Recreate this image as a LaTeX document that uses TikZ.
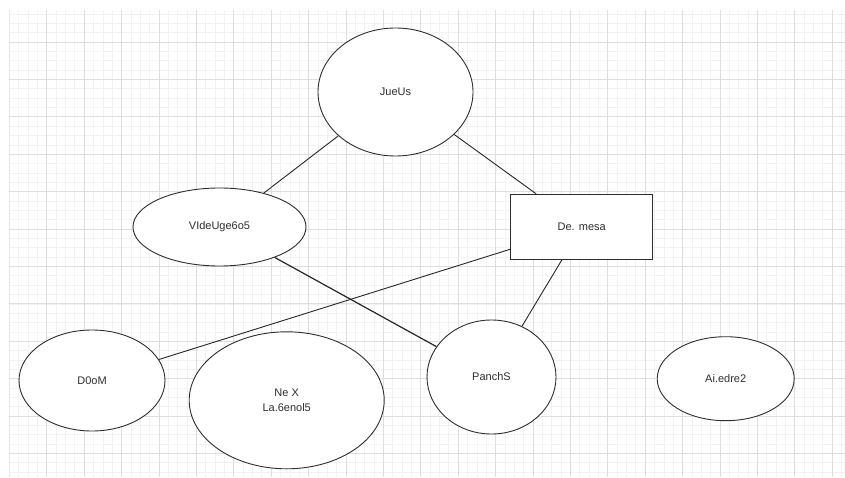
\documentclass[tikz,border=0pt]{standalone}
\usepackage{fontspec}
\setmainfont{Liberation Sans}
\usetikzlibrary{shapes.geometric}
\definecolor{gridmaj}{HTML}{DEDEDE}
\definecolor{gridmin}{HTML}{F2F2F2}
\definecolor{ink}{HTML}{2E2E2E}
\begin{document}
\begin{tikzpicture}[x=1pt,y=-1pt,line width=0.9pt,
ell/.style={ellipse,draw=ink,fill=white,inner sep=0pt,text=ink,align=center,font=\fontsize{11}{14.5}\selectfont},
box/.style={rectangle,draw=ink,fill=white,inner sep=0pt,text=ink,font=\fontsize{11}{14.5}\selectfont},
edge/.style={draw=black!85,line width=0.9pt}]
\useasboundingbox (0,0) rectangle (845,478);
\begin{scope}
\clip (9.3,10) rectangle (845,477);
\foreach \i in {0,...,89}\draw[gridmin,line width=0.6pt]({9.3+9.35*\i},10)--({9.3+9.35*\i},477);
\foreach \i in {0,...,50}\draw[gridmin,line width=0.6pt](9.3,{4.6+9.35*\i})--(845,{4.6+9.35*\i});
\foreach \i in {0,...,22}\draw[gridmaj,line width=0.8pt]({9.3+37.4*\i},10)--({9.3+37.4*\i},477);
\foreach \i in {0,...,12}\draw[gridmaj,line width=0.8pt](9.3,{4.6+37.4*\i})--(845,{4.6+37.4*\i});
\end{scope}
\node[ell,minimum width=155pt,minimum height=128pt](jueus) at (395.5,92){JueUs};
\node[ell,minimum width=173pt,minimum height=78pt](video) at (219.5,227){VIdeUge6o5};
\node[box,minimum width=142pt,minimum height=65pt](mesa) at (581.7,226.8){De. mesa};
\node[ell,minimum width=146pt,minimum height=101pt](doom) at (92,380.5){D0oM};
\node[ell,minimum width=195pt,minimum height=137pt](nex) at (286.7,400.3){Ne X\\La.6enol5};
\node[ell,minimum width=129pt,minimum height=114pt](panch) at (491.5,377){PanchS};
\node[ell,minimum width=137pt,minimum height=84pt](aiedre) at (725.7,378.7){Ai.edre2};
\draw[edge](jueus)--(video);
\draw[edge](jueus)--(mesa);
\draw[edge,line width=1.2pt](video)--(panch);
\draw[edge](mesa)--(doom);
\draw[edge](mesa)--(panch);
\end{tikzpicture}
\end{document}
